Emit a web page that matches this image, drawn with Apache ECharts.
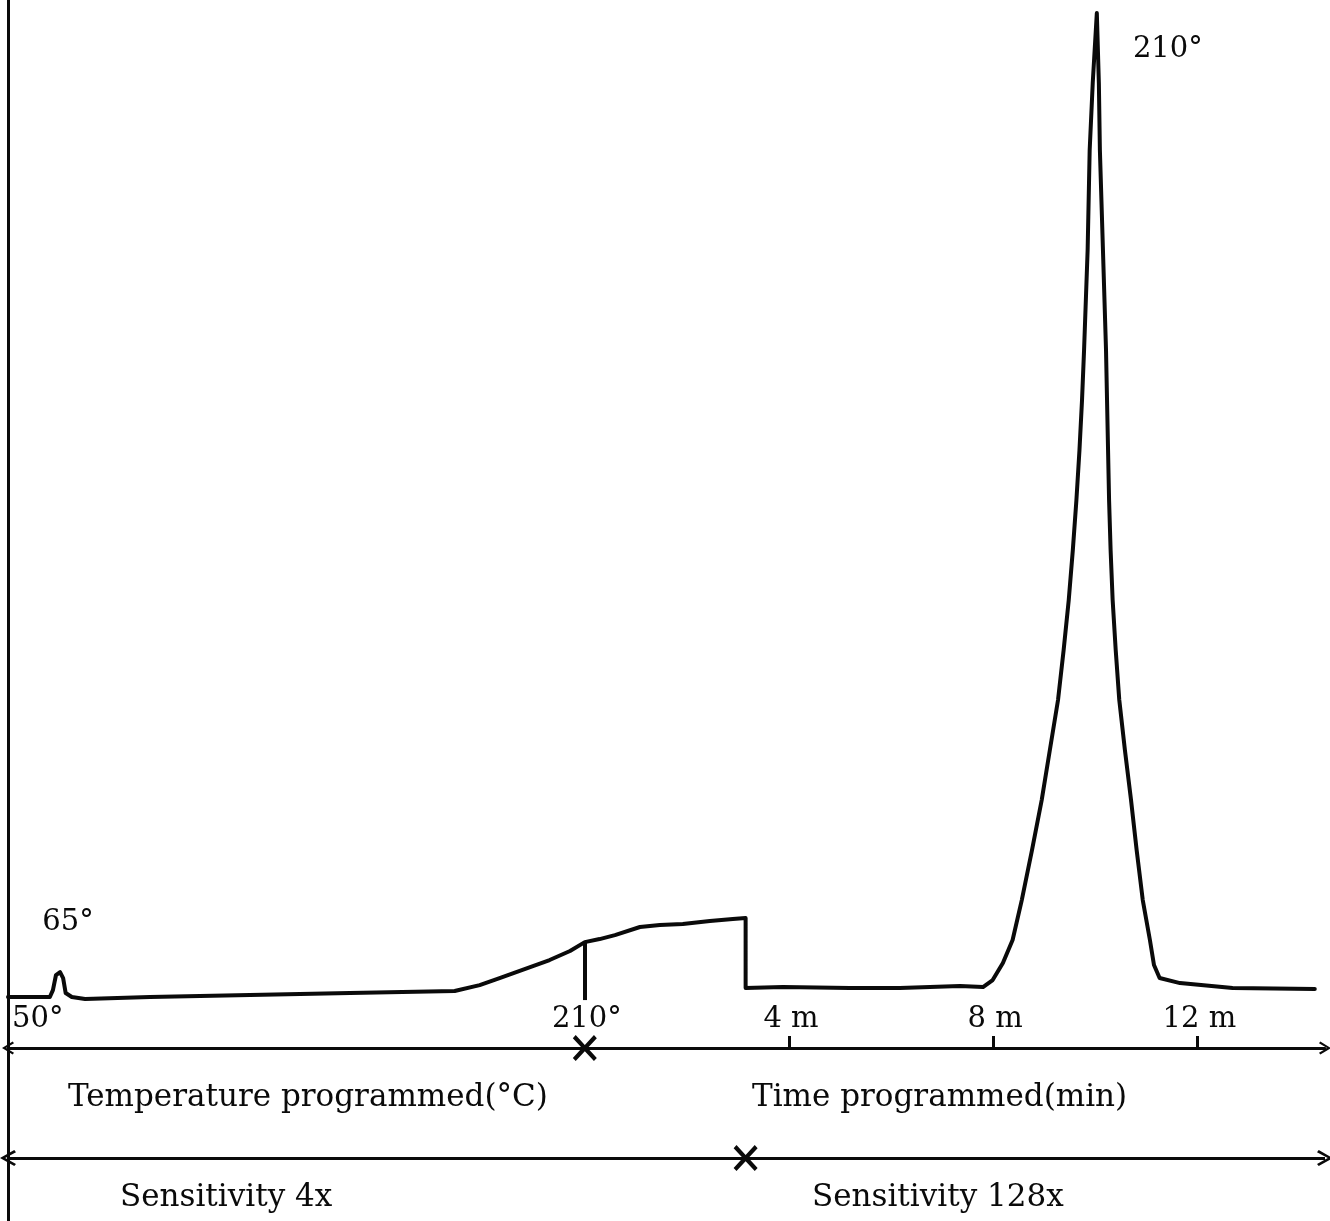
<!DOCTYPE html>
<html>
<head>
<meta charset="utf-8">
<script src="https://cdn.jsdelivr.net/npm/echarts@6/dist/echarts.min.js"></script>
<style>
  html, body { margin: 0; padding: 0; background: #fff; }
  #chart { width: 1330px; height: 1221px; }
</style>
</head>
<body>
<div id="chart"></div>
<script>
// ---- Data (x: minutes after the end of the temperature programme; y: detector response, arbitrary units) ----
const xMin = -11.3;
const xMax = 14.5;
const yMin = -16.5;
const yMax = 100;

const traceTime = [
  -11.30, -10.48, -10.42, -10.36, -10.28, -10.22, -10.17, -10.05, -9.79, -8.52,
  -6.56, -4.60, -2.55, -2.06, -1.67, -1.18, -0.69, -0.29, 0.00, 0.29,
  0.59, 1.08, 1.47, 1.92, 2.45, 2.90, 3.15, 3.15, 3.88, 5.19,
  6.17, 7.35, 7.80, 7.99, 8.19, 8.38, 8.56, 8.76, 8.95, 9.11,
  9.27, 9.38, 9.48, 9.56, 9.63, 9.69, 9.74, 9.78, 9.85, 9.89,
  9.95, 10.03, 10.07, 10.09, 10.15, 10.21, 10.23, 10.25, 10.27, 10.30,
  10.34, 10.40, 10.47, 10.58, 10.70, 10.81, 10.93, 11.07, 11.15, 11.26,
  11.66, 12.69, 14.30
];
const traceResponse = [
  4.87, 4.87, 5.53, 6.97, 7.25, 6.68, 5.25, 4.87, 4.68, 4.87,
  5.06, 5.25, 5.44, 6.01, 6.68, 7.54, 8.40, 9.26, 10.11, 10.40,
  10.78, 11.55, 11.74, 11.83, 12.12, 12.31, 12.40, 5.73, 5.82, 5.73,
  5.73, 5.92, 5.82, 6.49, 8.11, 10.31, 14.12, 18.89, 23.66, 28.44,
  33.21, 37.98, 42.75, 47.52, 52.29, 57.06, 61.83, 66.60, 76.15, 85.69,
  92.08, 98.76, 92.08, 85.69, 76.15, 66.60, 61.83, 57.06, 52.29, 47.52,
  42.75, 37.98, 33.21, 28.44, 23.66, 18.89, 14.12, 10.31, 7.92, 6.68,
  6.20, 5.73, 5.63
];

const axisLabelValues = [xMin, 0, 4, 8, 12];
const axisLabelTexts = ['50°', '210°', '4 m', '8 m', '12 m'];
const timeTicks = [4, 8, 12];

const programmeSwitch = 0;      // end of temperature programme (210°)
const sensitivitySwitch = 3.15; // change of sensitivity 4x -> 128x
const sensitivityLevel = -10.5; // level of the sensitivity arrow line

const peakLabelTexts = ['65°', '210°'];
const peakTimes = [-10.28, 10.03];
const peakResponses = [7.25, 98.76];

const captions = ['Temperature programmed(°C)', 'Time programmed(min)', 'Sensitivity 4x', 'Sensitivity 128x'];

// ---- Build chart ----
const chevron = 'path://M50,0 L100,82 L86,92 L50,30 L14,92 L0,82 Z';
const cross = 'path://M0,12 L12,0 L50,38 L88,0 L100,12 L62,50 L100,88 L88,100 L50,62 L12,100 L0,88 L38,50 Z';
const serif = '"DejaVu Serif", "Liberation Serif", serif';
const ink = '#0a0a0a';

const chartHeight = 1221;
const gridTop = 0, gridBottom = 0;
const gridHeight = chartHeight - gridTop - gridBottom;
// place the x axis at response 0 (offset up from the grid bottom)
const axisOffset = -gridHeight * (0 - yMin) / (yMax - yMin);

const traceData = traceTime.map((t, i) => [t, traceResponse[i]]);
const labelMap = {};
axisLabelValues.forEach((v, i) => { labelMap[String(v)] = axisLabelTexts[i]; });

const chart = echarts.init(document.getElementById('chart'), null, { renderer: 'canvas' });
chart.setOption({
  animation: false,
  backgroundColor: '#ffffff',
  grid: { left: 8, right: 5, top: gridTop, bottom: gridBottom, containLabel: false },
  xAxis: {
    type: 'value',
    min: xMin,
    max: xMax,
    offset: axisOffset,
    splitLine: { show: false },
    axisLine: {
      show: true,
      onZero: false,
      symbol: [chevron, chevron],
      symbolSize: [20, 12],
      lineStyle: { color: ink, width: 3 }
    },
    axisTick: {
      show: true,
      inside: true,
      length: 12,
      customValues: timeTicks,
      lineStyle: { color: ink, width: 3 }
    },
    axisLabel: {
      show: true,
      inside: true,
      margin: 14,
      customValues: axisLabelValues,
      alignMinLabel: 'left',
      formatter: (v) => labelMap[String(v)] !== undefined ? labelMap[String(v)] : '',
      color: ink,
      fontFamily: serif,
      fontSize: 29,
      padding: [0, 0, 0, 4]
    }
  },
  yAxis: {
    type: 'value',
    min: yMin,
    max: yMax,
    splitLine: { show: false },
    axisLine: { show: true, onZero: false, lineStyle: { color: ink, width: 3 } },
    axisTick: { show: false },
    axisLabel: { show: false }
  },
  series: [
    {
      name: 'Detector response',
      type: 'line',
      data: traceData,
      showSymbol: false,
      symbol: 'none',
      lineStyle: { color: ink, width: 4, join: 'round', cap: 'round' },
      markLine: {
        silent: true,
        symbol: 'none',
        label: { show: false },
        lineStyle: { color: ink, width: 4, type: 'solid' },
        data: [
          [{ coord: [programmeSwitch, traceResponse[traceTime.indexOf(programmeSwitch)]] }, { coord: [programmeSwitch, 4.58] }]
        ]
      },
      markPoint: {
        silent: true,
        symbol: 'circle',
        symbolSize: 1,
        itemStyle: { color: 'rgba(0,0,0,0)' },
        label: {
          show: true,
          position: 'inside',
          color: ink,
          fontFamily: serif,
          fontSize: 29,
          formatter: (p) => p.name
        },
        data: [
          { name: peakLabelTexts[0], coord: [peakTimes[0], peakResponses[0]], label: { offset: [8, -50] } },
          { name: peakLabelTexts[1], coord: [peakTimes[1], peakResponses[1]], label: { offset: [71, 36] } }
        ]
      }
    },
    {
      name: 'Switch points',
      type: 'scatter',
      data: [[programmeSwitch, 0], [sensitivitySwitch, sensitivityLevel]],
      symbol: cross,
      symbolSize: [24, 26],
      itemStyle: { color: ink, opacity: 1 },
      z: 5,
      markLine: {
        silent: true,
        symbol: [chevron, chevron],
        symbolSize: 16,
        label: { show: false },
        lineStyle: { color: ink, width: 3, type: 'solid' },
        data: [
          [{ coord: [xMin, sensitivityLevel] }, { coord: [xMax, sensitivityLevel] }]
        ]
      }
    }
  ],
  graphic: [
    { type: 'text', x: 68, y: 1098, style: { text: captions[0], font: '31px ' + serif, fill: ink, textAlign: 'left', textVerticalAlign: 'middle' } },
    { type: 'text', x: 752, y: 1098, style: { text: captions[1], font: '31px ' + serif, fill: ink, textAlign: 'left', textVerticalAlign: 'middle' } },
    { type: 'text', x: 120, y: 1198, style: { text: captions[2], font: '31px ' + serif, fill: ink, textAlign: 'left', textVerticalAlign: 'middle' } },
    { type: 'text', x: 812, y: 1198, style: { text: captions[3], font: '31px ' + serif, fill: ink, textAlign: 'left', textVerticalAlign: 'middle' } }
  ]
});
</script>
</body>
</html>
